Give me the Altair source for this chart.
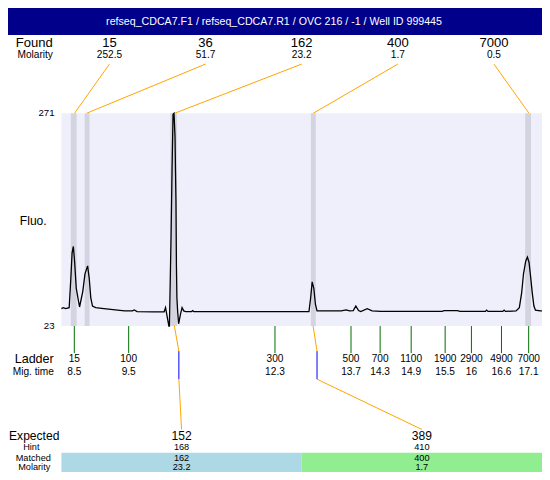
import altair as alt
import pandas as pd

# ---------------- data ----------------
TITLE = "refseq_CDCA7.F1 / refseq_CDCA7.R1 / OVC 216 / -1 / Well ID 999445"

found_size = ["15", "36", "162", "400", "7000"]
found_molarity = ["252.5", "51.7", "23.2", "1.7", "0.5"]
found_time = [8.502, 8.728, 10.394, 13.020, 17.107]
band_start = [8.434, 8.697, 10.319, 12.978, 17.034]
band_end = [8.544, 8.788, 10.442, 13.070, 17.144]

ladder_size = ["15", "100", "300", "500", "700", "1100", "1900", "2900", "4900", "7000"]
ladder_time_label = ["8.5", "9.5", "12.3", "13.7", "14.3", "14.9", "15.5", "16", "16.6", "17.1"]
ladder_time = [8.500, 9.529, 12.298, 13.737, 14.288, 14.876, 15.519, 16.016, 16.585, 17.100]

expected_size = ["152", "389"]
hint_size = ["168", "410"]
matched_size = ["162", "400"]
matched_molarity = ["23.2", "1.7"]
matched_time = [10.394, 13.020]
expected_ladder_time = [10.479, 13.094]
match_color = ["#ADD8E6", "#90EE90"]

trace_time = [8.256, 8.292, 8.335, 8.403, 8.434, 8.458, 8.482, 8.507, 8.537, 8.599,
              8.660, 8.702, 8.752, 8.783, 8.812, 8.844, 8.904, 9.059, 9.452, 9.600,
              9.634, 9.689, 10.000, 10.200, 10.227, 10.249, 10.290, 10.300, 10.319, 10.332,
              10.350, 10.369, 10.387, 10.406, 10.415, 10.424, 10.433, 10.442, 10.455, 10.474,
              10.510, 10.540, 10.571, 10.608, 10.720, 10.740, 10.760, 12.700, 12.941, 12.973,
              13.002, 13.033, 13.064, 13.094, 13.553, 13.645, 13.708, 13.780, 13.829, 13.880,
              13.921, 14.044, 14.136, 14.300, 15.459, 15.500, 15.750, 15.800, 16.280, 16.304,
              16.330, 16.610, 16.635, 16.660, 16.861, 16.923, 16.966, 17.002, 17.045, 17.076,
              17.107, 17.137, 17.168, 17.199, 17.228, 17.320, 17.351]
trace_fluo = [43.3, 44.4, 43.3, 44.4, 78.2, 108.3, 115.8, 97.1, 67.0, 45.2,
              63.2, 83.9, 93.2, 78.2, 55.7, 46.3, 44.4, 43.3, 40.7, 40.7,
              41.8, 39.9, 39.6, 39.6, 44.4, 36.9, 23.0, 23.0, 86.1, 131.2,
              205.6, 269.9, 271.0, 243.9, 205.0, 168.4, 92.9, 55.7, 41.0, 25.6,
              36.9, 44.4, 40.7, 39.9, 39.9, 41.0, 39.9, 39.9, 39.9, 55.7,
              74.5, 67.0, 48.1, 40.7, 40.7, 41.8, 40.7, 41.0, 46.3, 41.0,
              39.9, 43.3, 40.7, 40.0, 40.0, 40.9, 40.9, 40.0, 40.0, 41.6,
              40.0, 40.0, 41.6, 40.0, 40.7, 44.4, 61.3, 83.9, 98.9, 103.4,
              97.1, 80.2, 61.3, 46.3, 41.4, 40.7, 40.7]

FLUO_MIN, FLUO_MAX = 23, 271
TIME_MIN, TIME_MAX = 7.245, 17.352

# ---------------- layout ----------------
W, H = 534, 464
REF_W, REF_H = 550, 480
sx, sy = W / REF_W, H / REF_H
fs = min(sx, sy)


def X(px):
    return px * sx


def Y(py):
    return py * sy


PLOT_L, PLOT_T, PLOT_B = 55, 109, 329
k = (FLUO_MAX - FLUO_MIN) / (PLOT_B - PLOT_T)
f_top = FLUO_MAX + PLOT_T * k
f_bot = FLUO_MIN - (REF_H - PLOT_B) * k
t_left = TIME_MIN + PLOT_L / REF_W * (TIME_MAX - TIME_MIN)

xs = alt.Scale(domain=[TIME_MIN, TIME_MAX], nice=False, zero=False)
ys = alt.Scale(domain=[f_bot, f_top], nice=False, zero=False)
FONT = "Liberation Sans"

one = pd.DataFrame({"k": [0]})


def label(text, xpx, ypx, size, align="center", color="black"):
    return alt.Chart(one).mark_text(
        text=text, fontSize=size * fs, align=align, baseline="middle", font=FONT, color=color
    ).encode(x=alt.value(X(xpx)), y=alt.value(Y(ypx)))


n_found = len(found_size)
slot_w = (TIME_MAX - t_left) / n_found
found_df = pd.DataFrame({
    "size": found_size,
    "mol": found_molarity,
    "peak": found_time,
    "slot": [t_left + (i + 0.5) * slot_w for i in range(n_found)],
})
band_df = pd.DataFrame({"s": band_start, "e": band_end, "lo": FLUO_MIN, "hi": FLUO_MAX})
bg_df = pd.DataFrame({"s": [t_left], "e": [TIME_MAX], "lo": [FLUO_MIN], "hi": [FLUO_MAX]})
trace_df = pd.DataFrame({"t": trace_time, "f": trace_fluo})
ladder_df = pd.DataFrame({"size": ladder_size, "lab": ladder_time_label, "t": ladder_time})
axis_df = pd.DataFrame({"v": [FLUO_MIN, FLUO_MAX], "lab": [str(FLUO_MIN), str(FLUO_MAX)]})

n_exp = len(expected_size)
exp_w = (TIME_MAX - t_left) / n_exp
exp_df = pd.DataFrame({
    "exp": expected_size,
    "hint": hint_size,
    "matched": matched_size,
    "mol": matched_molarity,
    "peak": matched_time,
    "lad": expected_ladder_time,
    "slot": [t_left + (i + 0.5) * exp_w for i in range(n_exp)],
    "s": [t_left + i * exp_w for i in range(n_exp)],
    "e": [t_left + (i + 1) * exp_w for i in range(n_exp)],
    "color": match_color,
})

layers = []

# title bar
layers.append(alt.Chart(one).mark_rect(color="#00008B").encode(
    x=alt.value(0), x2=alt.value(W), y=alt.value(0), y2=alt.value(Y(28))))
layers.append(label(TITLE, 274, 14, 11, color="white"))

# found rows
layers.append(label("Found", 27, 36, 13.5))
layers.append(label("Molarity", 28, 48.5, 10.5))
layers.append(alt.Chart(found_df).mark_text(fontSize=13.5 * fs, font=FONT, baseline="middle").encode(
    x=alt.X("slot:Q", scale=xs, axis=None), y=alt.value(Y(36)), text="size:N"))
layers.append(alt.Chart(found_df).mark_text(fontSize=10.5 * fs, font=FONT, baseline="middle").encode(
    x=alt.X("slot:Q", scale=xs, axis=None), y=alt.value(Y(48.5)), text="mol:N"))
layers.append(alt.Chart(found_df).mark_rule(color="orange", strokeWidth=1).encode(
    x=alt.X("slot:Q", scale=xs, axis=None), x2="peak:Q",
    y=alt.value(Y(58)), y2=alt.value(Y(PLOT_T))))

# plot area
layers.append(alt.Chart(bg_df).mark_rect(color="#EFEFFC").encode(
    x=alt.X("s:Q", scale=xs, axis=None), x2="e:Q",
    y=alt.Y("lo:Q", scale=ys, axis=None), y2="hi:Q"))
layers.append(alt.Chart(band_df).mark_rect(color="#D4D4E0").encode(
    x=alt.X("s:Q", scale=xs, axis=None), x2="e:Q",
    y=alt.Y("lo:Q", scale=ys, axis=None), y2="hi:Q"))
layers.append(alt.Chart(trace_df).mark_line(color="black", strokeWidth=1.3).encode(
    x=alt.X("t:Q", scale=xs, axis=None), y=alt.Y("f:Q", scale=ys, axis=None), order="t:Q"))
layers.append(alt.Chart(axis_df).mark_text(fontSize=10 * fs, font=FONT, align="right", baseline="middle").encode(
    x=alt.value(X(48)), y=alt.Y("v:Q", scale=ys, axis=None), text="lab:N"))
layers.append(label("Fluo.", 26, 220, 12.5))

# ladder
layers.append(alt.Chart(ladder_df).mark_rule(color="#007000", strokeWidth=1).encode(
    x=alt.X("t:Q", scale=xs, axis=None), y=alt.value(Y(PLOT_B)), y2=alt.value(Y(357))))
layers.append(alt.Chart(ladder_df).mark_text(fontSize=10.5 * fs, font=FONT, baseline="middle").encode(
    x=alt.X("t:Q", scale=xs, axis=None), y=alt.value(Y(363.5)), text="size:N"))
layers.append(alt.Chart(ladder_df).mark_text(fontSize=10.5 * fs, font=FONT, baseline="middle").encode(
    x=alt.X("t:Q", scale=xs, axis=None), y=alt.value(Y(377)), text="lab:N"))
layers.append(label("Ladder", 27, 363.5, 13))
layers.append(label("Mig. time", 26, 377, 10.5))

# connectors to expected
layers.append(alt.Chart(exp_df).mark_rule(color="orange", strokeWidth=1).encode(
    x=alt.X("peak:Q", scale=xs, axis=None), x2="lad:Q",
    y=alt.value(Y(PLOT_B)), y2=alt.value(Y(355))))
layers.append(alt.Chart(exp_df).mark_rule(color="blue", strokeWidth=1).encode(
    x=alt.X("lad:Q", scale=xs, axis=None), y=alt.value(Y(355)), y2=alt.value(Y(384))))
layers.append(alt.Chart(exp_df).mark_rule(color="orange", strokeWidth=1).encode(
    x=alt.X("lad:Q", scale=xs, axis=None), x2="slot:Q",
    y=alt.value(Y(384)), y2=alt.value(Y(436))))

# expected block
layers.append(alt.Chart(exp_df).mark_rect().encode(
    x=alt.X("s:Q", scale=xs, axis=None), x2="e:Q",
    y=alt.value(Y(460)), y2=alt.value(Y(480)),
    color=alt.Color("color:N", scale=None)))
layers.append(alt.Chart(exp_df).mark_text(fontSize=12.5 * fs, font=FONT, baseline="middle").encode(
    x=alt.X("slot:Q", scale=xs, axis=None), y=alt.value(Y(443)), text="exp:N"))
for col, yy in [("hint", 454.5), ("matched", 465), ("mol", 475)]:
    layers.append(alt.Chart(exp_df).mark_text(fontSize=9.5 * fs, font=FONT, baseline="middle").encode(
        x=alt.X("slot:Q", scale=xs, axis=None), y=alt.value(Y(yy)), text=f"{col}:N"))
layers.append(label("Expected", 27, 443, 12.5))
layers.append(label("Hint", 24, 454.5, 9.5))
layers.append(label("Matched", 26, 465, 9.5))
layers.append(label("Molarity", 27, 475, 9.5))

chart = alt.layer(*layers).properties(
    width=W, height=H,
    autosize=alt.AutoSizeParams(type="none"),
    padding=0,
    background="white",
).configure_view(strokeWidth=0)

chart.save("out.html", embed_options={"renderer": "svg", "actions": False})
